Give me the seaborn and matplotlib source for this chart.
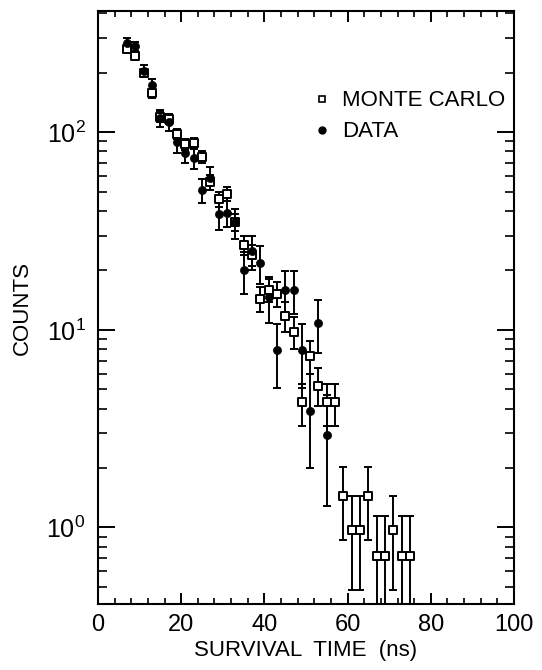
import matplotlib
matplotlib.use("Agg")
import matplotlib.pyplot as plt
from matplotlib.lines import Line2D
from matplotlib.ticker import MultipleLocator, LogLocator
import numpy as np
import pandas as pd
import seaborn as sns

# survival time bins (ns)
mc_time = [7, 9, 11, 13, 15, 17, 19, 21, 23, 25, 27, 29, 31, 33, 35, 37, 39, 41,
           43, 45, 47, 49, 51, 53, 55, 57, 59, 61, 63, 65, 67, 69, 71, 73, 75]
mc_counts = [265, 243, 200, 158, 120, 117, 98, 87, 88, 75, 56, 46, 49, 35, 27, 24,
             14.4, 16, 15.2, 11.8, 9.8, 4.3, 7.4, 5.2, 4.3, 4.3, 1.45, 0.97, 0.97,
             1.45, 0.72, 0.72, 0.97, 0.72, 0.72]
mc_low = [255, 233, 191, 150, 113, 110, 92, 81, 82, 70, 51, 42, 45, 31.5, 24, 21,
          12.3, 13.8, 13.0, 9.8, 8.0, 3.26, 6.0, 4.1, 3.26, 3.26, 0.86, 0.48, 0.48,
          0.86, 0.25, 0.25, 0.48, 0.25, 0.25]
mc_high = [275, 253, 209, 166, 127, 124, 104, 93, 94, 80, 61, 50, 53, 38.5, 30, 27,
           16.5, 18.2, 17.4, 13.8, 11.6, 5.3, 8.8, 6.4, 5.3, 5.3, 2.02, 1.45, 1.45,
           2.02, 1.14, 1.14, 1.45, 1.14, 1.14]

data_time = [7, 9, 11, 13, 15, 17, 19, 21, 23, 25, 27, 29, 31, 33, 35, 37, 39, 41,
             43, 45, 47, 49, 51, 53, 55]
data_counts = [284, 273, 205, 173, 118, 113, 89, 79, 74, 51, 59, 38.5, 39, 35, 20,
               25, 21.8, 14.6, 7.9, 15.9, 15.9, 7.9, 3.9, 10.9, 2.95]
data_low = [268, 258, 192, 160, 107, 102, 79, 70, 65, 44, 51, 32, 33, 29, 15.2, 20,
            17.1, 10.8, 5.1, 12.0, 12.0, 5.1, 2.0, 7.6, 1.28]
data_high = [300, 288, 218, 186, 129, 124, 99, 88, 83, 58, 67, 45, 45, 41, 24.7, 30,
             26.6, 18.5, 10.7, 19.9, 19.9, 10.7, 6.0, 14.1, 4.71]

mc = pd.DataFrame({"time": mc_time, "counts": mc_counts, "low": mc_low, "high": mc_high})
data = pd.DataFrame({"time": data_time, "counts": data_counts, "low": data_low, "high": data_high})

sns.set_style("ticks")
plt.rcParams["font.family"] = ["Liberation Sans", "DejaVu Sans"]
plt.rcParams["mathtext.fontset"] = "custom"
plt.rcParams["mathtext.rm"] = "Liberation Sans"
plt.rcParams["text.color"] = "black"
plt.rcParams["axes.labelcolor"] = "black"
plt.rcParams["xtick.color"] = "black"
plt.rcParams["ytick.color"] = "black"

fig = plt.figure(figsize=(5.42, 6.70), dpi=100)
ax = fig.add_axes([0.1808, 0.0985, 0.7675, 0.885])
ax.set_yscale("log")

for df in (mc, data):
    yerr = np.vstack([df["counts"] - df["low"], df["high"] - df["counts"]])
    ax.errorbar(df["time"], df["counts"], yerr=yerr, fmt="none", ecolor="black",
                elinewidth=1.4, capsize=2.8, capthick=1.4, zorder=2)

sns.scatterplot(data=mc, x="time", y="counts", ax=ax, marker="s", s=34,
                facecolor="white", edgecolor="black", linewidth=1.4, zorder=3)
sns.scatterplot(data=data, x="time", y="counts", ax=ax, marker="o", s=34,
                color="black", edgecolor="black", linewidth=0.5, zorder=4)

ax.set_xlim(0, 100)
ax.set_ylim(0.41, 411)
ax.xaxis.set_major_locator(MultipleLocator(20))
ax.xaxis.set_minor_locator(MultipleLocator(4))
ax.yaxis.set_major_locator(LogLocator(base=10))
ax.yaxis.set_minor_locator(LogLocator(base=10, subs=np.arange(2, 10)))

ax.tick_params(which="both", direction="in", top=True, right=True, colors="black",
               labelcolor="black")
ax.tick_params(axis="y", which="major", length=12, width=1.4, pad=9, labelsize=18)
ax.tick_params(axis="y", which="minor", length=6.5, width=1.2)
ax.tick_params(axis="x", which="major", length=8, width=1.4, pad=7, labelsize=17)
ax.tick_params(axis="x", which="minor", length=4.5, width=1.2)
for sp in ax.spines.values():
    sp.set_linewidth(1.5)
    sp.set_color("black")

ax.set_xlabel("SURVIVAL  TIME  (ns)", fontsize=16, labelpad=3, color="black")
ax.set_ylabel("COUNTS", fontsize=16, labelpad=10, color="black")

handles = [
    Line2D([], [], marker="s", linestyle="none", markersize=5, markerfacecolor="white",
           markeredgecolor="black", markeredgewidth=1.2),
    Line2D([], [], marker="o", linestyle="none", markersize=5, color="black"),
]
ax.legend(handles, ["MONTE CARLO", "DATA"], loc="upper left", bbox_to_anchor=(0.47, 0.9),
          frameon=False, fontsize=16, handlelength=0.8, handletextpad=0.5,
          labelspacing=0.45, labelcolor="black")

fig.savefig("out.png", dpi=100)
